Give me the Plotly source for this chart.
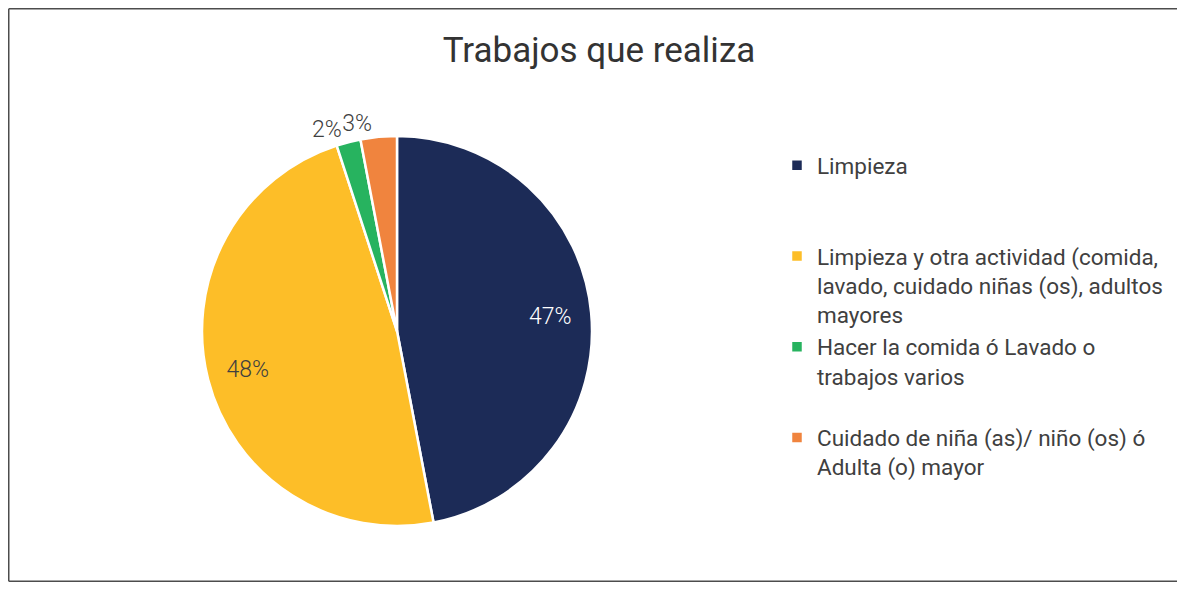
import plotly.graph_objects as go

title_text = "Trabajos que realiza"
categories = [
    "Limpieza",
    "Limpieza y otra actividad (comida,<br>lavado, cuidado niñas (os), adultos<br>mayores",
    "Hacer la comida ó Lavado o<br>trabajos varios",
    "Cuidado de niña (as)/ niño (os) ó<br>Adulta (o) mayor",
]
# trailing blank lines mimic the evenly spaced legend slots of the original
legend_padding = ["<br>\u00a0<br>\u00a0", "", "<br>\u00a0", ""]
values = [47, 48, 2, 3]
colors = ["#1C2B57", "#FDBE28", "#27B35F", "#F0843E"]
# which label sits in which layer (ring layer places labels at ~0.8 r like the original)
ring_text = ["%{percent}", "%{percent}", "%{percent}", ""]
ring_pos = ["inside", "inside", "outside", "inside"]
base_text = ["", "", "", "%{percent}"]
text_colors = ["#FFFFFF", "#404040", "#404040", "#404040"]

OFF = 8  # default body margin of the html page
W, H = 1185 - 2 * OFF, 590 - 2 * OFF  # keep the page free of scrollbars


def px(x):
    return (x - OFF) / W


def py(y):
    return 1 - (y - OFF) / H


cx, cy, r = 397, 331, 195
dom = dict(x=[px(cx - r), px(cx + r)], y=[max(0, py(cy + 245)), py(cy - 245)])
labels = [c + p for c, p in zip(categories, legend_padding)]
font_fam = "Roboto"

base = go.Pie(
    labels=labels,
    values=values,
    sort=False,
    direction="clockwise",
    rotation=0,
    marker=dict(colors=colors, line=dict(color="white", width=2.5)),
    texttemplate=base_text,
    textposition="outside",
    textfont=dict(family=font_fam, size=23, color="#404040", weight=300),
    domain=dom,
    hoverinfo="label+percent",
    showlegend=True,
)

ring = go.Pie(
    labels=labels,
    values=values,
    sort=False,
    direction="clockwise",
    rotation=0,
    hole=0.58,
    marker=dict(colors=["rgba(0,0,0,0)"] * len(values), line=dict(width=0)),
    texttemplate=ring_text,
    textposition=ring_pos,
    insidetextorientation="horizontal",
    textfont=dict(family=font_fam, size=23, color=text_colors, weight=300),
    outsidetextfont=dict(family=font_fam, size=23, color="#404040", weight=300),
    domain=dom,
    hoverinfo="skip",
    showlegend=False,
)

fig = go.Figure([base, ring])

frame = dict(color="#4D4D4D", width=1.5)
x_left = 0.75 / W
y_top = 1 - 0.75 / H
y_bot = 0.75 / H

fig.update_layout(
    width=W,
    height=H,
    margin=dict(l=0, r=0, t=0, b=0, autoexpand=False),
    paper_bgcolor="white",
    plot_bgcolor="white",
    title=dict(
        text=title_text,
        x=px(599),
        xanchor="center",
        y=py(50),
        yanchor="middle",
        font=dict(family=font_fam, size=35, color="#333333"),
    ),
    legend=dict(
        x=px(817 - 40),
        xanchor="left",
        y=py(144),
        yanchor="top",
        valign="top",
        font=dict(family=font_fam, size=22.5, color="#404040"),
        bgcolor="rgba(0,0,0,0)",
    ),
    shapes=[
        dict(type="line", xref="paper", yref="paper", x0=x_left, x1=x_left, y0=y_bot, y1=y_top, line=frame),
        dict(type="line", xref="paper", yref="paper", x0=x_left, x1=1, y0=y_top, y1=y_top, line=frame),
        dict(type="line", xref="paper", yref="paper", x0=x_left, x1=1, y0=y_bot, y1=y_bot, line=frame),
    ],
)

fig.write_html("out.html")
